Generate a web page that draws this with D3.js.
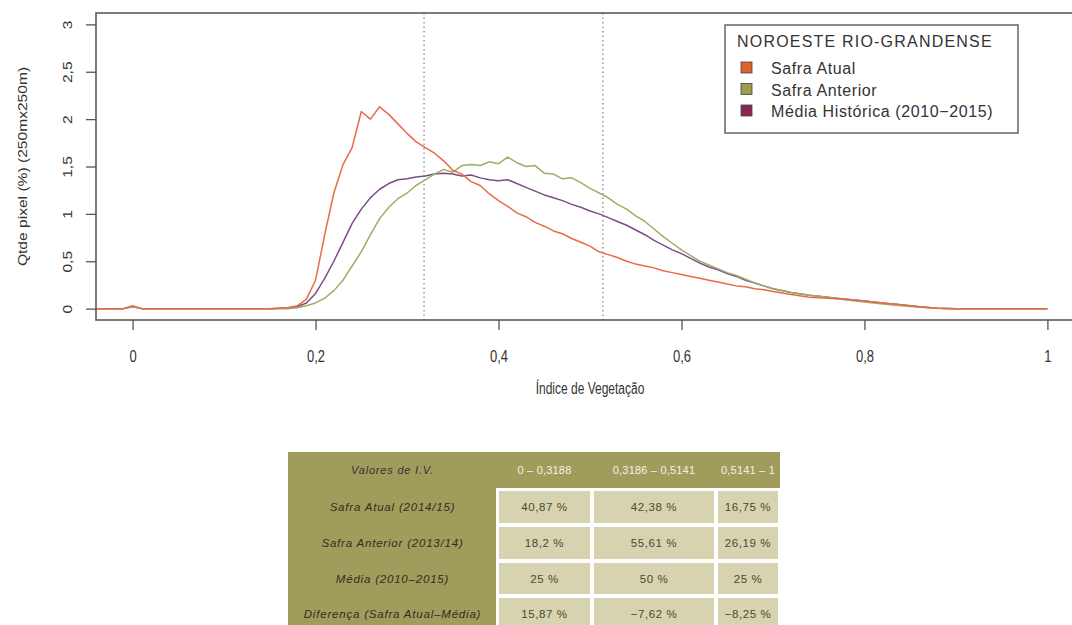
<!DOCTYPE html>
<html>
<head>
<meta charset="utf-8">
<script src="https://cdn.jsdelivr.net/npm/d3@7"></script>
<style>
  body { margin: 0; background: #fff; }
  svg { display: block; font-family: "Liberation Sans", Arial, sans-serif; }
</style>
</head>
<body>
<svg id="chart" width="1072" height="625"></svg>
<script>
// indice de vegetacao (x) and the three curves
var ivX = [-0.04, -0.01, 0, 0.01, 0.05, 0.10, 0.15,
  0.17, 0.18, 0.19, 0.20, 0.21, 0.22, 0.23, 0.24, 0.25, 0.26, 0.27, 0.28, 0.29,
  0.30, 0.31, 0.32, 0.33, 0.34, 0.35, 0.36, 0.37, 0.38, 0.39,
  0.40, 0.41, 0.42, 0.43, 0.44, 0.45, 0.46, 0.47, 0.48, 0.49,
  0.50, 0.51, 0.52, 0.53, 0.54, 0.55, 0.56, 0.57, 0.58, 0.59,
  0.60, 0.61, 0.62, 0.63, 0.64, 0.65, 0.66, 0.67, 0.68, 0.69, 0.70,
  0.72, 0.74, 0.76, 0.78, 0.80, 0.82, 0.84, 0.86, 0.88, 0.90, 0.95, 1.0];

var safraAtual = [0, 0, 0.03, 0, 0, 0, 0,
  0.01, 0.03, 0.10, 0.30, 0.78, 1.22, 1.52, 1.70, 2.08, 2.00, 2.13, 2.05, 1.95,
  1.85, 1.76, 1.70, 1.64, 1.56, 1.46, 1.42, 1.34, 1.30, 1.21,
  1.14, 1.08, 1.01, 0.97, 0.91, 0.87, 0.82, 0.79, 0.74, 0.70,
  0.66, 0.60, 0.57, 0.54, 0.50, 0.47, 0.45, 0.43, 0.40, 0.38,
  0.36, 0.34, 0.32, 0.30, 0.28, 0.26, 0.24, 0.23, 0.21, 0.20, 0.18,
  0.15, 0.12, 0.11, 0.10, 0.08, 0.06, 0.04, 0.02, 0.005, 0, 0, 0];

var safraAnterior = [0, 0, 0.02, 0, 0, 0, 0,
  0, 0.01, 0.03, 0.06, 0.11, 0.19, 0.30, 0.45, 0.60, 0.78, 0.95, 1.07, 1.16,
  1.22, 1.30, 1.36, 1.42, 1.47, 1.44, 1.51, 1.52, 1.51, 1.55,
  1.53, 1.60, 1.54, 1.50, 1.51, 1.43, 1.42, 1.37, 1.38, 1.33,
  1.27, 1.22, 1.17, 1.10, 1.05, 0.98, 0.92, 0.84, 0.76, 0.69,
  0.62, 0.56, 0.50, 0.46, 0.42, 0.38, 0.35, 0.31, 0.27, 0.24, 0.21,
  0.17, 0.14, 0.12, 0.09, 0.07, 0.05, 0.03, 0.015, 0.003, 0, 0, 0];

var mediaHistorica = [0, 0, 0.02, 0, 0, 0, 0,
  0.01, 0.02, 0.06, 0.16, 0.32, 0.50, 0.70, 0.90, 1.05, 1.17, 1.26, 1.32, 1.36,
  1.37, 1.39, 1.40, 1.42, 1.43, 1.42, 1.40, 1.41, 1.38, 1.36,
  1.35, 1.36, 1.32, 1.28, 1.24, 1.20, 1.17, 1.14, 1.10, 1.07,
  1.03, 1.00, 0.96, 0.92, 0.88, 0.83, 0.78, 0.72, 0.67, 0.62,
  0.58, 0.53, 0.48, 0.44, 0.41, 0.37, 0.34, 0.30, 0.27, 0.24, 0.21,
  0.17, 0.14, 0.12, 0.10, 0.08, 0.06, 0.04, 0.02, 0.005, 0, 0, 0];

var seriesNames = ["Safra Atual", "Safra Anterior", "Média Histórica (2010\u22122015)"];
var legendTitle = "NOROESTE RIO-GRANDENSE";
var xTicks = [0, 0.2, 0.4, 0.6, 0.8, 1];
var yTicks = [0, 0.5, 1, 1.5, 2, 2.5, 3];
var limites = [0.3186, 0.5141];

// table under the chart
var tabHeader = ["Valores de I.V.", "0 \u2013 0,3188", "0,3186 \u2013 0,5141", "0,5141 \u2013 1"];
var tabRows = ["Safra Atual (2014/15)", "Safra Anterior (2013/14)", "Média (2010\u20132015)", "Diferença (Safra Atual\u2013Média)"];
var tabVals = [
  ["40,87 %", "42,38 %", "16,75 %"],
  ["18,2 %", "55,61 %", "26,19 %"],
  ["25 %", "50 %", "25 %"],
  ["15,87 %", "\u22127,62 %", "\u22128,25 %"]
];

var lineColors = ["#ea6a48", "#9cae68", "#7d4c86"];
var swatchColors = ["#df622e", "#9c9c4a", "#8a2853"];

var svg = d3.select("#chart");
var box = {left: 96, top: 13, bottom: 320};

var x = d3.scaleLinear().domain([-0.04, 1.04]).range([box.left, 1084]);
var y = d3.scaleLinear().domain([-0.12, 3.12]).range([box.bottom, box.top]);
var fmt = function(d) { return String(d).replace(".", ","); };

svg.append("clipPath").attr("id", "plotclip")
  .append("rect")
  .attr("x", box.left).attr("y", box.top)
  .attr("width", 1084 - box.left).attr("height", box.bottom - box.top);

// dotted limits
svg.selectAll(".lim")
  .data(limites)
  .enter().append("line")
  .attr("x1", function(d) { return x(d); })
  .attr("x2", function(d) { return x(d); })
  .attr("y1", box.top).attr("y2", box.bottom)
  .attr("stroke", "#8a8a8a")
  .attr("stroke-width", 1.3)
  .attr("stroke-dasharray", "1.5,3");

// curves
var series = [safraAtual, safraAnterior, mediaHistorica];
var line = d3.line()
  .x(function(d) { return x(d[0]); })
  .y(function(d) { return y(d[1]); });

var g = svg.append("g").attr("clip-path", "url(#plotclip)");
// draw purple first, then green, red on top
[2, 1, 0].forEach(function(i) {
  g.append("path")
    .datum(d3.zip(ivX, series[i]))
    .attr("fill", "none")
    .attr("stroke", lineColors[i])
    .attr("stroke-width", 1.5)
    .attr("stroke-linejoin", "round")
    .attr("d", line);
});

// box
svg.append("rect")
  .attr("x", box.left).attr("y", box.top)
  .attr("width", 1084 - box.left).attr("height", box.bottom - box.top)
  .attr("fill", "none")
  .attr("stroke", "#5a5a5a")
  .attr("stroke-width", 1.6);

// x axis
var xa = svg.append("g")
  .attr("transform", "translate(0," + box.bottom + ")")
  .call(d3.axisBottom(x).tickValues(xTicks).tickFormat(fmt).tickSize(10).tickSizeOuter(0));
xa.select(".domain").remove();
xa.selectAll(".tick line").attr("stroke", "#555").attr("stroke-width", 1.3);
xa.selectAll(".tick text")
  .attr("y", 0).attr("dy", 0)
  .attr("transform", "translate(0,42) scale(1,1.2)")
  .attr("fill", "#333")
  .style("font-size", "13px");

// y axis
var ya = svg.append("g")
  .attr("transform", "translate(" + box.left + ",0)")
  .call(d3.axisLeft(y).tickValues(yTicks).tickFormat(fmt).tickSize(10).tickSizeOuter(0));
ya.select(".domain").remove();
ya.selectAll(".tick line").attr("stroke", "#555").attr("stroke-width", 1.3);
ya.selectAll(".tick text")
  .attr("x", 0).attr("y", 0).attr("dy", 0)
  .attr("text-anchor", "middle")
  .attr("transform", "translate(-24,0) rotate(-90) scale(1.3,1)")
  .attr("fill", "#333")
  .style("font-size", "12px");

// axis titles
svg.append("text")
  .attr("transform", "translate(590,394) scale(1,1.3)")
  .attr("text-anchor", "middle")
  .attr("fill", "#333")
  .style("font-size", "12px")
  .text("Índice de Vegetação");

svg.append("text")
  .attr("transform", "translate(27," + ((box.top + box.bottom) / 2) + ") rotate(-90) scale(1.3,1)")
  .attr("text-anchor", "middle")
  .attr("fill", "#333")
  .style("font-size", "12px")
  .text("Qtde pixel (%) (250mx250m)");

// legend
var leg = svg.append("g").attr("transform", "translate(725,25)");
leg.append("rect")
  .attr("width", 293).attr("height", 108)
  .attr("fill", "#fff")
  .attr("stroke", "#666")
  .attr("stroke-width", 1.5);
leg.append("text")
  .attr("x", 12).attr("y", 22)
  .attr("fill", "#333")
  .style("font-size", "16px")
  .style("letter-spacing", "1.2px")
  .text(legendTitle);
var items = leg.selectAll(".item")
  .data(seriesNames)
  .enter().append("g")
  .attr("transform", function(d, i) { return "translate(0," + (43 + i * 21.5) + ")"; });
items.append("rect")
  .attr("x", 16).attr("y", -6)
  .attr("width", 11).attr("height", 11)
  .attr("fill", function(d, i) { return swatchColors[i]; })
  .attr("stroke", "#444")
  .attr("stroke-width", 0.8);
items.append("text")
  .attr("x", 46).attr("y", 6)
  .attr("fill", "#333")
  .style("font-size", "16px")
  .style("letter-spacing", "0.6px")
  .text(function(d) { return d; });

// table
var tab = {left: 288, right: 780, top: 452, labelW: 209};
var colX = [tab.left + tab.labelW, 592, 716, tab.right];
var rowY = [489, 525, 561, 596, 632];
svg.append("rect")
  .attr("x", tab.left).attr("y", tab.top)
  .attr("width", tab.right - tab.left).attr("height", 625 - tab.top)
  .attr("fill", "#a09c5c");

// white grid under the cells
svg.append("rect")
  .attr("x", colX[0] - 1).attr("y", rowY[0] - 1)
  .attr("width", tab.right - colX[0] + 1).attr("height", 625 - rowY[0] + 1)
  .attr("fill", "#fff");

tabVals.forEach(function(row, r) {
  row.forEach(function(v, c) {
    svg.append("rect")
      .attr("x", colX[c] + 2).attr("y", rowY[r] + 2)
      .attr("width", colX[c + 1] - colX[c] - 4).attr("height", rowY[r + 1] - rowY[r] - 4)
      .attr("fill", "#d7d2af");
    svg.append("text")
      .attr("x", (colX[c] + colX[c + 1]) / 2)
      .attr("y", (rowY[r] + rowY[r + 1]) / 2 + 4)
      .attr("text-anchor", "middle")
      .attr("fill", "#4a4a34")
      .style("font-size", "11.5px")
      .style("letter-spacing", "0.6px")
      .text(v);
  });
});

tabHeader.forEach(function(h, i) {
  svg.append("text")
    .attr("x", i === 0 ? tab.left + tab.labelW / 2 : (colX[i - 1] + colX[i]) / 2)
    .attr("y", tab.top + 22)
    .attr("text-anchor", "middle")
    .attr("fill", i === 0 ? "#333" : "#f4f2e4")
    .style("font-size", "11px")
    .style("font-style", i === 0 ? "italic" : "normal")
    .style("letter-spacing", i === 0 ? "0.8px" : "0.2px")
    .text(h);
});

tabRows.forEach(function(t, r) {
  svg.append("text")
    .attr("x", tab.left + tab.labelW / 2)
    .attr("y", (rowY[r] + rowY[r + 1]) / 2 + 4)
    .attr("text-anchor", "middle")
    .attr("fill", "#2e2e22")
    .style("font-size", "11.5px")
    .style("font-style", "italic")
    .style("letter-spacing", "0.8px")
    .text(t);
});
</script>
</body>
</html>
